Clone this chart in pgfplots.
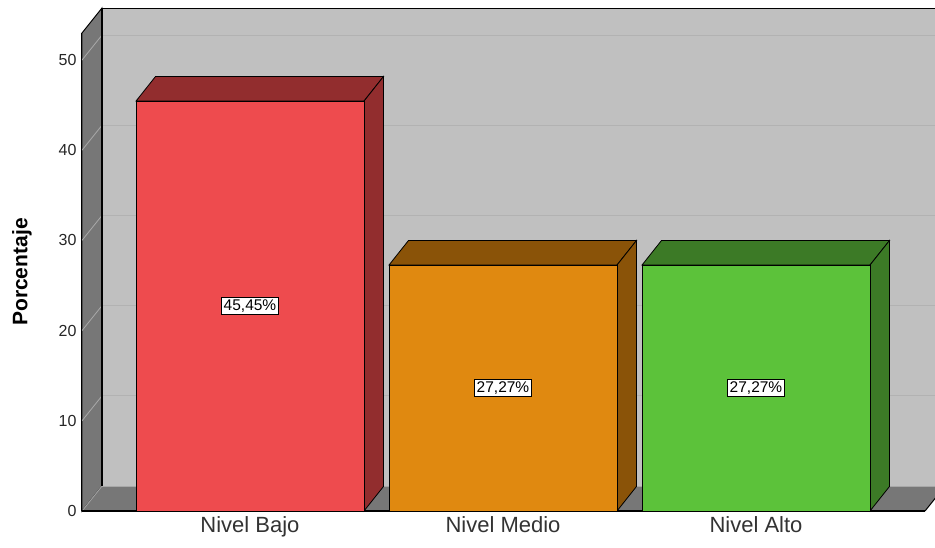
\documentclass[border=0pt]{standalone}
\usepackage{fontspec}
\setmainfont{Liberation Sans}
\usepackage{pgfplots}
\pgfplotsset{compat=1.18}
\definecolor{wallback}{HTML}{C0C0C0}
\definecolor{wallside}{HTML}{777777}
\definecolor{gridback}{HTML}{B2B2B2}
\definecolor{gridside}{HTML}{A8A8A8}
\definecolor{redF}{HTML}{EE4B4E}
\definecolor{redD}{HTML}{922D2E}
\definecolor{oraF}{HTML}{E08910}
\definecolor{oraD}{HTML}{8A5308}
\definecolor{grnF}{HTML}{5CC23A}
\definecolor{grnD}{HTML}{3C7A26}
\begin{document}
\begin{tikzpicture}
\begin{axis}[
  at={(0,0)}, anchor=south west,
  scale only axis, width=843pt, height=478pt,
  xmin=-0.664, xmax=2.668, ymin=0, ymax=53,
  clip=false,
  axis line style={draw=none},
  major tick length=0pt,
  ytick={0,10,20,30,40,50},
  xtick={0,1,2},
  xticklabels={Nivel Bajo, Nivel Medio, Nivel Alto},
  /pgf/number format/assume math mode=true,
  yticklabel style={font=\fontsize{16}{18}\selectfont, text=black!85, xshift=-2pt},
  xticklabel style={font=\fontsize{22}{26}\selectfont, text=black!80, yshift=-2pt},
  ylabel={Porcentaje},
  ylabel style={at={(axis description cs:0,0.5)}, anchor=center, yshift=60pt, font=\fontsize{21}{24}\selectfont\bfseries},
]
% back wall
\addplot[fill=wallback, draw=black, line width=1pt] coordinates {(-0.585,2.77) (-0.585,55.77) (2.800,55.77) (2.800,2.77)} -- cycle;
% left wall
\addplot[fill=wallside, draw=black, line width=1pt] coordinates {(-0.664,0) (-0.585,2.77) (-0.585,55.77) (-0.664,53)} -- cycle;
% floor
\addplot[fill=wallside, draw=none] coordinates {(-0.664,0) (2.668,0) (2.747,2.77) (-0.585,2.77)} -- cycle;
\addplot[draw=black, line width=1pt] coordinates {(2.668,0) (2.747,2.77)};
% grid on back wall
\addplot[draw=gridback, line width=1pt] coordinates {(-0.585,12.77) (2.8,12.77)};
\addplot[draw=gridback, line width=1pt] coordinates {(-0.585,22.77) (2.8,22.77)};
\addplot[draw=gridback, line width=1pt] coordinates {(-0.585,32.77) (2.8,32.77)};
\addplot[draw=gridback, line width=1pt] coordinates {(-0.585,42.77) (2.8,42.77)};
\addplot[draw=gridback, line width=1pt] coordinates {(-0.585,52.77) (2.8,52.77)};
\addplot[draw=gridside, line width=0.8pt] coordinates {(-0.585,2.77) (2.747,2.77)};
% grid on left wall
\addplot[draw=gridside, line width=0.8pt] coordinates {(-0.664,0) (-0.585,2.77)};
\addplot[draw=gridside, line width=0.8pt] coordinates {(-0.664,10) (-0.585,12.77)};
\addplot[draw=gridside, line width=0.8pt] coordinates {(-0.664,20) (-0.585,22.77)};
\addplot[draw=gridside, line width=0.8pt] coordinates {(-0.664,30) (-0.585,32.77)};
\addplot[draw=gridside, line width=0.8pt] coordinates {(-0.664,40) (-0.585,42.77)};
\addplot[draw=gridside, line width=0.8pt] coordinates {(-0.664,50) (-0.585,52.77)};
% back wall left edge
\addplot[draw=black, line width=1.2pt] coordinates {(-0.585,2.77) (-0.585,55.77)};
% front axis line
\addplot[draw=black, line width=1.6pt] coordinates {(-0.664,0) (2.668,0)};
\addplot[draw=black, line width=1pt] coordinates {(-0.664,0) (-0.664,53)};

% Nivel Bajo 45.45
\addplot[fill=redD, draw=black, line width=0.8pt] coordinates {(-0.4506,45.45) (-0.3736,48.17) (0.5276,48.17) (0.4506,45.45)} -- cycle;
\addplot[fill=redD, draw=black, line width=0.8pt] coordinates {(0.4506,0) (0.4506,45.45) (0.5276,48.17) (0.5276,2.72)} -- cycle;
\addplot[ybar, bar width=0.9012, bar shift=0, fill=redF, draw=black, line width=0.8pt] coordinates {(0,45.45)};
% Nivel Medio 27.27
\addplot[fill=oraD, draw=black, line width=0.8pt] coordinates {(0.5494,27.27) (0.6264,29.99) (1.5276,29.99) (1.4506,27.27)} -- cycle;
\addplot[fill=oraD, draw=black, line width=0.8pt] coordinates {(1.4506,0) (1.4506,27.27) (1.5276,29.99) (1.5276,2.72)} -- cycle;
\addplot[ybar, bar width=0.9012, bar shift=0, fill=oraF, draw=black, line width=0.8pt] coordinates {(1,27.27)};
% Nivel Alto 27.27
\addplot[fill=grnD, draw=black, line width=0.8pt] coordinates {(1.5494,27.27) (1.6264,29.99) (2.5276,29.99) (2.4506,27.27)} -- cycle;
\addplot[fill=grnD, draw=black, line width=0.8pt] coordinates {(2.4506,0) (2.4506,27.27) (2.5276,29.99) (2.5276,2.72)} -- cycle;
\addplot[ybar, bar width=0.9012, bar shift=0, fill=grnF, draw=black, line width=0.8pt] coordinates {(2,27.27)};

% value labels
\node[fill=white, draw=black, line width=0.8pt, inner sep=2pt, font=\fontsize{15.5}{17}\selectfont] at (axis cs:0,22.725) {45,45\%};
\node[fill=white, draw=black, line width=0.8pt, inner sep=2pt, font=\fontsize{15.5}{17}\selectfont] at (axis cs:1,13.635) {27,27\%};
\node[fill=white, draw=black, line width=0.8pt, inner sep=2pt, font=\fontsize{15.5}{17}\selectfont] at (axis cs:2,13.635) {27,27\%};
\end{axis}
\pgfresetboundingbox
\path[use as bounding box] (-82pt,-36pt) rectangle (853pt,511pt);
\end{tikzpicture}
\end{document}
